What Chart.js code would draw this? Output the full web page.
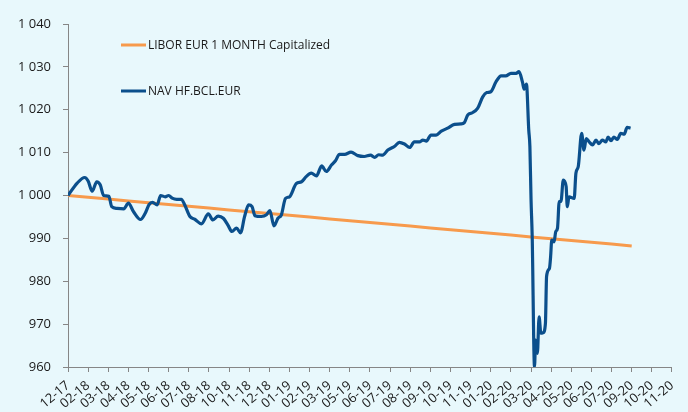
<!DOCTYPE html>
<html>
<head>
<meta charset="utf-8">
<title>NAV HF.BCL.EUR vs LIBOR EUR 1M</title>
<script src="https://cdn.jsdelivr.net/npm/chart.js@4/dist/chart.umd.min.js"></script>
<style>
  html, body { margin: 0; padding: 0; background: #E8F8FC; }
  #wrap { width: 688px; height: 412px; }
</style>
</head>
<body>
<div id="wrap"><canvas id="navChart" width="688" height="412"></canvas></div>
<script>
// x axis runs in days since 29-12-2017, one label every 35 days
const tickStep = 35;
const tickLabels = ['12-17', '02-18', '03-18', '04-18', '05-18', '06-18', '07-18', '08-18', '10-18', '11-18',
  '12-18', '01-19', '02-19', '03-19', '05-19', '06-19', '07-19', '08-19', '09-19', '10-19',
  '11-19', '01-20', '02-20', '03-20', '04-20', '05-20', '06-20', '07-20', '09-20', '10-20', '11-20'];

// LIBOR EUR 1M capitalized, one value per label date
const liborValues = [1000.0, 999.6, 999.2, 998.7, 998.3, 997.9, 997.5, 997.1, 996.6, 996.2,
  995.8, 995.4, 995.0, 994.5, 994.1, 993.7, 993.3, 992.9, 992.4, 992.0,
  991.6, 991.2, 990.8, 990.3, 989.9, 989.5, 989.1, 988.7, 988.2];

// NAV of the fund
const navDays = [0, 16, 29, 35, 42, 50, 56, 62, 71, 76, 85, 97, 105, 114, 126, 134, 141, 147, 155, 161,
  169, 175, 181, 189, 197, 203, 212, 220, 232, 244, 252, 261, 270, 278, 285, 293, 300, 307, 314, 320,
  325, 336, 345, 351, 358, 365, 371, 378, 385, 397, 406, 414, 423, 432, 441, 449, 458, 465, 472, 481,
  492, 504, 515, 526, 533, 540, 547, 556, 568, 576, 585, 594, 602, 611, 617, 623, 631, 640, 649, 660,
  672, 683, 689, 695, 703, 712, 721, 728, 735, 744, 753, 761, 770, 779, 784, 790, 793, 797, 801, 803,
  805, 807, 811, 813, 816, 819, 822, 826, 830, 832, 837, 839, 841, 845, 848, 851, 854, 857, 861, 866,
  868, 871, 880, 883, 887, 893, 897, 901, 906, 912, 918, 923, 929, 935, 939, 944, 949, 955, 961, 967,
  972, 978];
const navValues = [1000.0, 1002.9, 1004.2, 1003.4, 1001.0, 1003.2, 1002.5, 1000.0, 999.8, 997.4,
  997.0, 996.9, 998.2, 996.2, 994.4, 995.8, 997.9, 998.4, 997.8, 1000.0,
  999.7, 1000.0, 999.4, 999.1, 999.1, 997.8, 995.1, 994.5, 993.4, 995.7,
  994.3, 995.2, 994.7, 993.1, 991.6, 992.4, 991.3, 995.1, 997.8, 997.4,
  995.3, 995.1, 995.5, 996.5, 992.9, 994.7, 995.5, 999.3, 999.7, 1002.8,
  1003.2, 1004.4, 1005.2, 1004.6, 1006.9, 1005.6, 1007.1, 1008.1, 1009.6, 1009.6,
  1010.1, 1009.3, 1009.1, 1009.4, 1008.9, 1009.5, 1009.4, 1010.6, 1011.5, 1012.4,
  1012.0, 1011.2, 1012.5, 1012.5, 1012.9, 1012.7, 1014.1, 1014.1, 1015.0, 1015.7,
  1016.6, 1016.7, 1017.0, 1018.8, 1019.3, 1020.3, 1023.0, 1024.0, 1024.2, 1026.5,
  1027.9, 1027.9, 1028.5, 1028.5, 1028.9, 1026.5, 1024.8, 1026.0, 1015.3, 1011.4,
  999.0, 990.4, 960.1, 966.3, 963.2, 971.7, 967.9, 968.0, 970.2, 981.1,
  983.0, 985.7, 989.6, 989.2, 991.6, 992.4, 998.6, 998.6, 1003.6, 1002.1,
  997.4, 999.7, 999.3, 1005.2, 1006.7, 1014.5, 1010.6, 1013.3, 1012.5, 1011.8,
  1012.9, 1012.1, 1012.9, 1012.5, 1013.6, 1012.8, 1013.6, 1013.1, 1014.5, 1014.3,
  1015.9, 1015.7];

const axisGrey = '#868686';
const textColour = '#1a1a1a';

// legend drawn inside the plot, one row per dataset
const insideLegend = {
  id: 'insideLegend',
  afterDraw(chart, args, opts) {
    const ctx = chart.ctx;
    ctx.save();
    ctx.font = opts.font;
    ctx.textBaseline = 'middle';
    ctx.lineWidth = 3;
    chart.data.datasets.forEach((ds, i) => {
      const y = opts.top + i * opts.rowGap;
      ctx.strokeStyle = ds.borderColor;
      ctx.beginPath();
      ctx.moveTo(opts.left, y);
      ctx.lineTo(opts.left + opts.sample, y);
      ctx.stroke();
      ctx.fillStyle = textColour;
      ctx.fillText(ds.label, opts.left + opts.sample + 2, y + 1);
    });
    ctx.restore();
  }
};

const spaced = v => String(v).replace(/\B(?=(\d{3})+(?!\d))/g, ' ');

new Chart(document.getElementById('navChart'), {
  type: 'line',
  data: {
    datasets: [{
      label: 'LIBOR EUR 1 MONTH Capitalized',
      data: liborValues.map((v, i) => ({ x: i * tickStep, y: v })),
      borderColor: '#F79A4C',
      borderWidth: 3,
      pointRadius: 0,
      tension: 0,
      order: 1
    }, {
      label: 'NAV HF.BCL.EUR',
      data: navValues.map((v, i) => ({ x: navDays[i], y: v })),
      borderColor: '#0B4F8C',
      borderWidth: 3.2,
      pointRadius: 0,
      cubicInterpolationMode: 'monotone',
      order: 0
    }]
  },
  options: {
    responsive: false,
    animation: false,
    layout: { padding: { top: 24, right: 15, left: 0, bottom: 0 } },
    plugins: {
      legend: { display: false },
      tooltip: { enabled: false },
      insideLegend: { left: 121, top: 45, rowGap: 46, sample: 25, font: '12px "Open Sans"' }
    },
    scales: {
      x: {
        type: 'linear',
        min: 0,
        max: (tickLabels.length - 1) * tickStep,
        afterFit: s => { s.height = 45; },
        border: { display: true, color: axisGrey, width: 1 },
        grid: { drawOnChartArea: false, drawTicks: true, tickLength: 5, color: axisGrey },
        ticks: {
          stepSize: tickStep,
          autoSkip: false,
          minRotation: 40,
          maxRotation: 40,
          padding: 6,
          color: textColour,
          font: { family: 'Open Sans', size: 13 },
          callback: (v, i) => tickLabels[i]
        }
      },
      y: {
        min: 960,
        max: 1040,
        afterFit: s => { s.width = 68; },
        border: { display: true, color: axisGrey, width: 1 },
        grid: { drawOnChartArea: false, drawTicks: true, tickLength: 5, color: axisGrey },
        ticks: {
          stepSize: 10,
          padding: 12,
          color: textColour,
          font: { family: 'Open Sans', size: 13 },
          callback: v => spaced(v)
        }
      }
    }
  },
  plugins: [insideLegend]
});
</script>
</body>
</html>
